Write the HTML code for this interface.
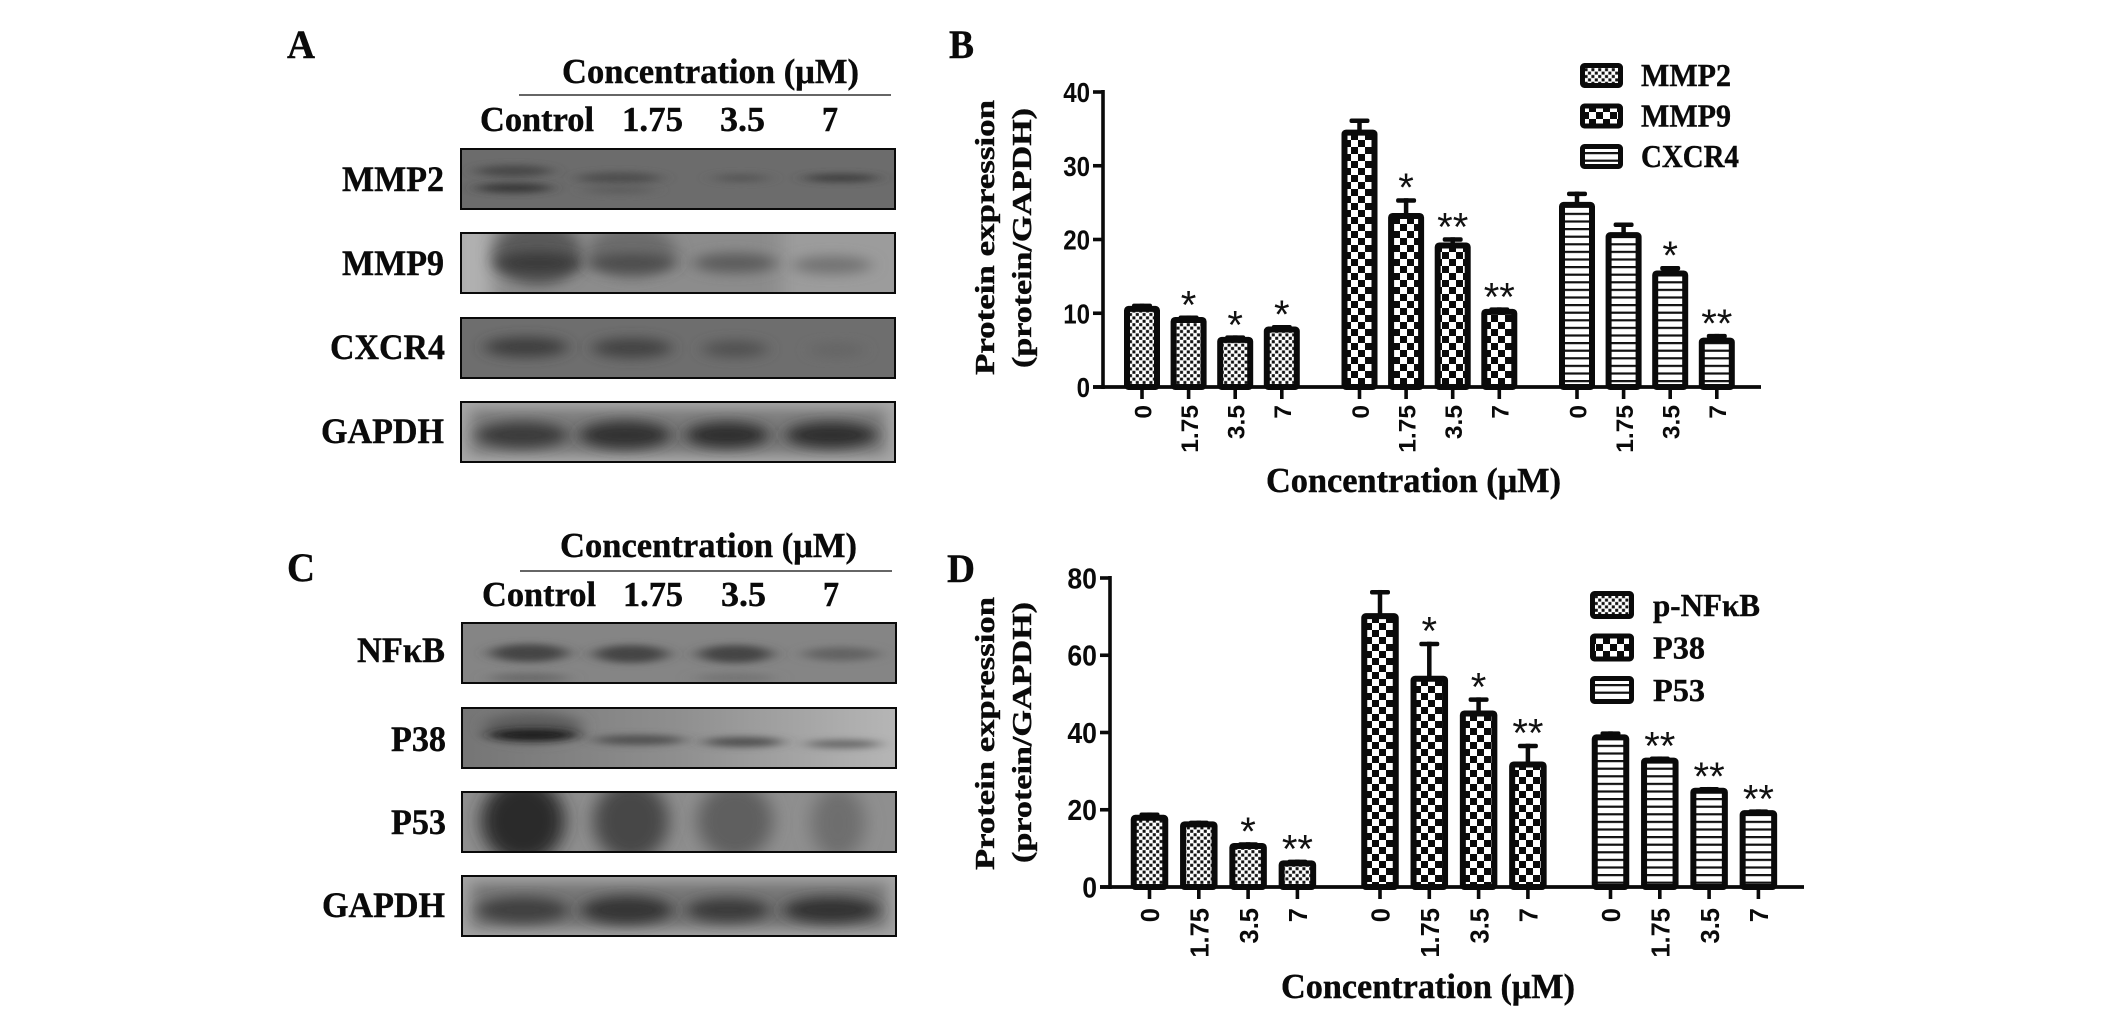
<!DOCTYPE html>
<html lang="en">
<head>
<meta charset="utf-8">
<title>Protein expression western blots</title>
<style>
html,body{margin:0;padding:0;background:#fff;width:2126px;height:1015px;overflow:hidden}
svg{display:block}
.serif{font-family:"Liberation Serif",serif;font-weight:bold;fill:#0a0a0a;stroke:#0a0a0a;stroke-width:.4}
.sans{font-family:"Liberation Sans",sans-serif;font-weight:bold;fill:#0a0a0a}
.star{font-family:"Liberation Sans",sans-serif;font-weight:normal;fill:#111}
</style>
</head>
<body>
<svg id="figure" xmlns="http://www.w3.org/2000/svg" width="2126" height="1015" viewBox="0 0 2126 1015">
<defs>
<filter id="b1" x="-40%" y="-150%" width="180%" height="400%"><feGaussianBlur stdDeviation="9 3.5"/></filter>
<filter id="b2" x="-40%" y="-100%" width="180%" height="300%"><feGaussianBlur stdDeviation="8 6"/></filter>
<filter id="b3" x="-40%" y="-100%" width="180%" height="300%"><feGaussianBlur stdDeviation="9 8"/></filter>
<filter id="b4" x="-40%" y="-40%" width="180%" height="180%"><feGaussianBlur stdDeviation="9 1"/></filter>
<pattern id="pat-fine" width="6.8" height="6.8" patternUnits="userSpaceOnUse">
<rect width="6.8" height="6.8" fill="#fff"/>
<rect x="0.2" y="0.2" width="3" height="3" fill="#111"/>
<rect x="3.6" y="3.6" width="3" height="3" fill="#111"/>
</pattern>
<pattern id="pat-check" width="14" height="14" patternUnits="userSpaceOnUse">
<rect width="14" height="14" fill="#fff"/>
<rect x="0" y="0" width="7" height="7" fill="#0a0a0a"/>
<rect x="7" y="7" width="7" height="7" fill="#0a0a0a"/>
</pattern>
<pattern id="pat-stripe" width="10" height="7.6" patternUnits="userSpaceOnUse">
<rect width="10" height="7.6" fill="#fff"/>
<rect x="0" y="0" width="10" height="2.2" fill="#111"/>
</pattern>
</defs>

<g id="panel-a">
<text class="serif" x="287" y="58" font-size="40" textLength="28" lengthAdjust="spacingAndGlyphs">A</text>
<text class="serif" x="562" y="83" font-size="35" textLength="297" lengthAdjust="spacingAndGlyphs">Concentration (μM)</text>
<line x1="519" x2="891" y1="95" y2="95" stroke="#333" stroke-width="1.6"/>
<text class="serif" x="480" y="131" font-size="35" textLength="114" lengthAdjust="spacingAndGlyphs">Control</text>
<text class="serif" x="622" y="131" font-size="35" textLength="61" lengthAdjust="spacingAndGlyphs">1.75</text>
<text class="serif" x="720" y="131" font-size="35" textLength="45" lengthAdjust="spacingAndGlyphs">3.5</text>
<text class="serif" x="822" y="131" font-size="35" textLength="16" lengthAdjust="spacingAndGlyphs">7</text>
<text class="serif" x="342" y="191" font-size="36" textLength="102" lengthAdjust="spacingAndGlyphs">MMP2</text>
<text class="serif" x="342" y="275" font-size="36" textLength="102" lengthAdjust="spacingAndGlyphs">MMP9</text>
<text class="serif" x="330" y="359" font-size="36" textLength="115" lengthAdjust="spacingAndGlyphs">CXCR4</text>
<text class="serif" x="321" y="443" font-size="36" textLength="123" lengthAdjust="spacingAndGlyphs">GAPDH</text>

<svg x="460" y="148" width="436" height="62">
<rect width="436" height="62" fill="#6c6c6c"/>
<ellipse cx="54" cy="23" rx="38" ry="6" fill="#4a4a4a" filter="url(#b1)"/>
<ellipse cx="54" cy="40" rx="38" ry="5" fill="#373737" filter="url(#b1)"/>
<ellipse cx="159" cy="30" rx="42" ry="6" fill="#4f4f4f" filter="url(#b1)"/>
<ellipse cx="159" cy="42" rx="35" ry="4" fill="#5d5d5d" filter="url(#b1)"/>
<ellipse cx="281" cy="30" rx="28" ry="4" fill="#565656" filter="url(#b1)"/>
<ellipse cx="381" cy="30" rx="38" ry="4" fill="#3d3d3d" filter="url(#b1)"/>
<rect x="1" y="1" width="434" height="60" fill="none" stroke="#0a0a0a" stroke-width="2"/>
</svg>
<svg x="460" y="232" width="436" height="62">
<rect width="436" height="62" fill="#8c8c8c"/>
<rect x="-10" y="-10" width="42" height="82" fill="#b0b0b0" filter="url(#b4)"/>
<rect x="322" y="-10" width="124" height="82" fill="#9c9c9c" filter="url(#b4)"/>
<ellipse cx="78" cy="22" rx="44" ry="32" fill="#5a5a5a" filter="url(#b2)"/>
<ellipse cx="78" cy="31" rx="42" ry="11" fill="#3a3a3a" filter="url(#b2)"/>
<ellipse cx="172" cy="20" rx="44" ry="26" fill="#6c6c6c" filter="url(#b2)"/>
<ellipse cx="172" cy="31" rx="44" ry="9" fill="#4c4c4c" filter="url(#b2)"/>
<ellipse cx="275" cy="31" rx="42" ry="10" fill="#5c5c5c" filter="url(#b2)"/>
<ellipse cx="372" cy="33" rx="40" ry="9" fill="#727272" filter="url(#b2)"/>
<rect x="1" y="1" width="434" height="60" fill="none" stroke="#0a0a0a" stroke-width="2"/>
</svg>
<svg x="460" y="317" width="436" height="62">
<rect width="436" height="62" fill="#6e6e6e"/>
<ellipse cx="66" cy="30" rx="42" ry="10" fill="#3e3e3e" filter="url(#b2)"/>
<ellipse cx="172" cy="31" rx="40" ry="10" fill="#424242" filter="url(#b2)"/>
<ellipse cx="275" cy="32" rx="33" ry="8" fill="#4f4f4f" filter="url(#b2)"/>
<ellipse cx="377" cy="33" rx="28" ry="6" fill="#646464" filter="url(#b2)"/>
<rect x="1" y="1" width="434" height="60" fill="none" stroke="#0a0a0a" stroke-width="2"/>
</svg>
<svg x="460" y="401" width="436" height="62">
<rect width="436" height="62" fill="#a8a8a8"/>
<rect x="10" y="8" width="416" height="46" fill="#7c7c7c" filter="url(#b2)"/>
<ellipse cx="62" cy="34" rx="46" ry="13" fill="#3a3a3a" filter="url(#b2)"/>
<ellipse cx="165" cy="34" rx="46" ry="14" fill="#303030" filter="url(#b2)"/>
<ellipse cx="267" cy="34" rx="42" ry="13" fill="#2f2f2f" filter="url(#b2)"/>
<ellipse cx="371" cy="34" rx="46" ry="13" fill="#2f2f2f" filter="url(#b2)"/>
<rect x="1" y="1" width="434" height="60" fill="none" stroke="#0a0a0a" stroke-width="2"/>
</svg>
</g>

<g id="panel-c">
<text class="serif" x="287" y="581" font-size="40" textLength="28" lengthAdjust="spacingAndGlyphs">C</text>
<text class="serif" x="560" y="557" font-size="35" textLength="297" lengthAdjust="spacingAndGlyphs">Concentration (μM)</text>
<line x1="520" x2="892" y1="571" y2="571" stroke="#333" stroke-width="1.6"/>
<text class="serif" x="482" y="606" font-size="35" textLength="114" lengthAdjust="spacingAndGlyphs">Control</text>
<text class="serif" x="623" y="606" font-size="35" textLength="60" lengthAdjust="spacingAndGlyphs">1.75</text>
<text class="serif" x="721" y="606" font-size="35" textLength="45" lengthAdjust="spacingAndGlyphs">3.5</text>
<text class="serif" x="823" y="606" font-size="35" textLength="16" lengthAdjust="spacingAndGlyphs">7</text>
<text class="serif" x="357" y="662" font-size="36" textLength="88" lengthAdjust="spacingAndGlyphs">NFκB</text>
<text class="serif" x="391" y="751" font-size="36" textLength="55" lengthAdjust="spacingAndGlyphs">P38</text>
<text class="serif" x="391" y="834" font-size="36" textLength="55" lengthAdjust="spacingAndGlyphs">P53</text>
<text class="serif" x="322" y="917" font-size="36" textLength="123" lengthAdjust="spacingAndGlyphs">GAPDH</text>

<svg x="461" y="622" width="436" height="62">
<rect width="436" height="62" fill="#858585"/>
<ellipse cx="68" cy="31" rx="39" ry="9" fill="#444444" filter="url(#b1)"/>
<ellipse cx="170" cy="32" rx="37" ry="9" fill="#454545" filter="url(#b1)"/>
<ellipse cx="274" cy="32" rx="37" ry="9" fill="#454545" filter="url(#b1)"/>
<ellipse cx="380" cy="32" rx="38" ry="7" fill="#636363" filter="url(#b1)"/>
<ellipse cx="68" cy="56" rx="40" ry="5" fill="#6a6a6a" filter="url(#b1)"/>
<ellipse cx="274" cy="56" rx="40" ry="5" fill="#747474" filter="url(#b1)"/>
<rect x="1" y="1" width="434" height="60" fill="none" stroke="#0a0a0a" stroke-width="2"/>
</svg>
<svg x="461" y="707" width="436" height="62">
<defs><linearGradient id="p38bg" x1="0" x2="1" y1="0" y2="0"><stop offset="0" stop-color="#757575"/><stop offset="0.5" stop-color="#8f8f8f"/><stop offset="1" stop-color="#b6b6b6"/></linearGradient></defs>
<rect width="436" height="62" fill="url(#p38bg)"/>
<ellipse cx="72" cy="20" rx="50" ry="14" fill="#5a5a5a" filter="url(#b2)"/>
<ellipse cx="72" cy="28" rx="44" ry="6" fill="#1c1c1c" filter="url(#b1)"/>
<ellipse cx="178" cy="33" rx="46" ry="5" fill="#505050" filter="url(#b1)"/>
<ellipse cx="282" cy="35" rx="40" ry="5" fill="#505050" filter="url(#b1)"/>
<ellipse cx="382" cy="37" rx="38" ry="4" fill="#636363" filter="url(#b1)"/>
<rect x="1" y="1" width="434" height="60" fill="none" stroke="#0a0a0a" stroke-width="2"/>
</svg>
<svg x="461" y="791" width="436" height="62">
<rect width="436" height="62" fill="#8f8f8f"/>
<ellipse cx="62" cy="30" rx="42" ry="42" fill="#2c2c2c" filter="url(#b3)"/>
<ellipse cx="170" cy="30" rx="38" ry="40" fill="#474747" filter="url(#b3)"/>
<ellipse cx="274" cy="30" rx="38" ry="38" fill="#5e5e5e" filter="url(#b3)"/>
<ellipse cx="377" cy="32" rx="27" ry="36" fill="#6e6e6e" filter="url(#b3)"/>
<rect x="1" y="1" width="434" height="60" fill="none" stroke="#0a0a0a" stroke-width="2"/>
</svg>
<svg x="461" y="875" width="436" height="62">
<rect width="436" height="62" fill="#a4a4a4"/>
<rect x="10" y="8" width="416" height="46" fill="#767676" filter="url(#b2)"/>
<ellipse cx="62" cy="35" rx="46" ry="13" fill="#404040" filter="url(#b2)"/>
<ellipse cx="166" cy="35" rx="46" ry="14" fill="#363636" filter="url(#b2)"/>
<ellipse cx="267" cy="35" rx="42" ry="12" fill="#3a3a3a" filter="url(#b2)"/>
<ellipse cx="370" cy="35" rx="48" ry="13" fill="#333333" filter="url(#b2)"/>
<rect x="1" y="1" width="434" height="60" fill="none" stroke="#0a0a0a" stroke-width="2"/>
</svg>
</g>

<g id="chart-b"></g>
<g id="chart-d"></g>
</svg>

<script>
// ---- shared categories ----
const concentrations = ['0', '1.75', '3.5', '7'];

// ---- chart B data ----
const chartBSeries = ['MMP2', 'MMP9', 'CXCR4'];
const chartBTicks = [0, 10, 20, 30, 40];
const mmp2Values = [11.0, 9.5, 6.8, 8.2];
const mmp2Errors = [0.3, 0.2, 0.2, 0.2];
const mmp2Stars = ['', '*', '*', '*'];
const mmp9Values = [34.9, 23.6, 19.6, 10.6];
const mmp9Errors = [1.5, 2.0, 0.7, 0.2];
const mmp9Stars = ['', '*', '**', '**'];
const cxcr4Values = [25.1, 21.0, 15.8, 6.7];
const cxcr4Errors = [1.4, 1.3, 0.6, 0.5];
const cxcr4Stars = ['', '', '*', '**'];

// ---- chart D data ----
const chartDSeries = ['p-NFκB', 'P38', 'P53'];
const chartDTicks = [0, 20, 40, 60, 80];
const nfkbValues = [18.7, 17.0, 11.4, 6.9];
const nfkbErrors = [0.6, 0.2, 0.2, 0.2];
const nfkbStars = ['', '', '*', '**'];
const p38Values = [70.9, 54.7, 45.7, 32.5];
const p38Errors = [6.0, 8.8, 3.4, 4.6];
const p38Stars = ['', '*', '*', '**'];
const p53Values = [39.5, 33.5, 25.7, 19.9];
const p53Errors = [0.8, 0.3, 0.2, 0.2];
const p53Stars = ['', '**', '**', '**'];

const SVGNS = 'http://www.w3.org/2000/svg';
function mk(parent, tag, attrs, text) {
  const el = document.createElementNS(SVGNS, tag);
  for (const k in attrs) el.setAttribute(k, attrs[k]);
  if (text !== undefined) el.textContent = text;
  parent.appendChild(el);
  return el;
}

function drawChart(cfg) {
  const root = document.getElementById(cfg.id);
  const xScale = (g, k) => cfg.x0 + g * cfg.groupStep + k * cfg.barStep;
  const yScale = v => cfg.yZero - v * cfg.pxPerUnit;

  // panel letter
  const letter = mk(root, 'text', {class: 'serif', x: cfg.letter.x, y: cfg.letter.y, 'font-size': 40, textLength: cfg.letter.w, lengthAdjust: 'spacingAndGlyphs'}, cfg.letter.t);
  
  

  // bars, errors, stars
  cfg.series.forEach((s, g) => {
    s.values.forEach((v, k) => {
      const cx = xScale(g, k);
      const top = yScale(v);
      const errTop = yScale(v + s.errors[k]);
      const inset = 3;
      const w = cfg.barWidth;
      const stem = mk(root, 'line', {x1: cx, x2: cx, y1: top + 2, y2: errTop, stroke: '#0a0a0a', 'stroke-width': 4.5});
      
      
      const cap = mk(root, 'rect', {x: cx - 10, y: errTop, width: 20, height: 4.5, rx: 2, fill: '#0a0a0a'});
      
      
      const bar = mk(root, 'rect', {x: cx - w / 2 + inset, y: top + inset, width: w - 2 * inset, height: Math.max(0, cfg.yZero - top - inset), fill: 'url(#' + s.pattern + ')', stroke: '#0a0a0a', 'stroke-width': 6, rx: 1.5});
      
      
      if (s.stars[k]) {
        const star = mk(root, 'text', {class: 'star', x: cx, y: errTop - cfg.starGap + 23, 'font-size': 40, 'text-anchor': 'middle'}, s.stars[k]);
        
        
      }
      // x tick + label
      const tick = mk(root, 'line', {x1: cx, x2: cx, y1: cfg.yZero, y2: cfg.yZero + 12, stroke: '#0a0a0a', 'stroke-width': 3.6});
      
      
      const lx = cx + cfg.xTickFont * 0.38;
      const ly = cfg.xLabelY;
      const label = mk(root, 'text', {class: 'sans', x: lx, y: ly, 'font-size': cfg.xTickFont, 'text-anchor': 'end', transform: 'rotate(-90 ' + lx + ' ' + ly + ')'}, concentrations[k]);
      
      
    });
  });

  // axes
  const yAxis = mk(root, 'line', {x1: cfg.axisX, x2: cfg.axisX, y1: yScale(cfg.ticks[cfg.ticks.length - 1]) - 2, y2: cfg.yZero + 2, stroke: '#0a0a0a', 'stroke-width': 3.6});
  
  
  const xAxis = mk(root, 'line', {x1: cfg.axisX - 10, x2: cfg.axisEnd, y1: cfg.yZero, y2: cfg.yZero, stroke: '#0a0a0a', 'stroke-width': 3.8});
  
  
  cfg.ticks.forEach(t => {
    const y = yScale(t);
    const tick = mk(root, 'line', {x1: cfg.axisX - 10, x2: cfg.axisX, y1: y, y2: y, stroke: '#0a0a0a', 'stroke-width': 3.6});
    
    
    const str = String(t);
    const label = mk(root, 'text', {class: 'sans', x: cfg.axisX - 13, y: y + cfg.yTickFont * 0.36, 'font-size': cfg.yTickFont, 'text-anchor': 'end', textLength: str.length * cfg.yTickWidth, lengthAdjust: 'spacingAndGlyphs'}, str);
    
    
  });

  // axis titles
  const t1 = cfg.title1, t2 = cfg.title2;
  const yt1 = mk(root, 'text', {class: 'serif', x: t1.x, y: t1.y, 'font-size': 27, textLength: t1.len, lengthAdjust: 'spacingAndGlyphs', transform: 'rotate(-90 ' + t1.x + ' ' + t1.y + ')'}, 'Protein expression');
  
  
  const yt2 = mk(root, 'text', {class: 'serif', x: t2.x, y: t2.y, 'font-size': 27, textLength: t2.len, lengthAdjust: 'spacingAndGlyphs', transform: 'rotate(-90 ' + t2.x + ' ' + t2.y + ')'}, '(protein/GAPDH)');
  
  
  const xt = mk(root, 'text', {class: 'serif', x: cfg.xTitle.x, y: cfg.xTitle.y, 'font-size': 35, textLength: cfg.xTitle.len, lengthAdjust: 'spacingAndGlyphs'}, 'Concentration (μM)');
  
  

  // legend
  cfg.series.forEach((s, i) => {
    const lg = cfg.legend;
    const y = lg.y0 + i * lg.step;
    const sw = mk(root, 'rect', {x: lg.x + 2.5, y: y + 2.5, width: lg.w - 5, height: lg.h - 5, rx: 2, fill: 'url(#' + s.pattern + ')', stroke: '#0a0a0a', 'stroke-width': 5});
    
    
    const tx = mk(root, 'text', {class: 'serif', x: lg.tx, y: y + lg.h - lg.baseUp, 'font-size': 32, textLength: s.legendWidth, lengthAdjust: 'spacingAndGlyphs'}, s.name);
    
    
  });
}

drawChart({
  id: 'chart-b',
  x0: 1142, groupStep: 217.5, barStep: 46.6, barWidth: 36,
  yZero: 387, pxPerUnit: 7.375, axisX: 1103, axisEnd: 1761,
  ticks: chartBTicks, yTickFont: 28, yTickWidth: 13.4, xTickFont: 24.5, xLabelY: 405, starGap: 20,
  letter: {t: 'B', x: 949, y: 58, w: 25},
  title1: {x: 994, y: 375, len: 275},
  title2: {x: 1031, y: 368, len: 260},
  xTitle: {x: 1266, y: 492, len: 295},
  legend: {x: 1580, y0: 63, step: 40.5, w: 43, h: 25, tx: 1641, baseUp: 2},
  series: [
    {name: chartBSeries[0], values: mmp2Values, errors: mmp2Errors, stars: mmp2Stars, pattern: 'pat-fine', legendWidth: 90},
    {name: chartBSeries[1], values: mmp9Values, errors: mmp9Errors, stars: mmp9Stars, pattern: 'pat-check', legendWidth: 90},
    {name: chartBSeries[2], values: cxcr4Values, errors: cxcr4Errors, stars: cxcr4Stars, pattern: 'pat-stripe', legendWidth: 98}
  ]
});

drawChart({
  id: 'chart-d',
  x0: 1149.5, groupStep: 230.5, barStep: 49.3, barWidth: 37.5,
  yZero: 887, pxPerUnit: 3.8625, axisX: 1110, axisEnd: 1804,
  ticks: chartDTicks, yTickFont: 29, yTickWidth: 14.8, xTickFont: 25.5, xLabelY: 908, starGap: 20,
  letter: {t: 'D', x: 947, y: 582, w: 28},
  title1: {x: 994, y: 870, len: 273},
  title2: {x: 1031, y: 863, len: 261},
  xTitle: {x: 1281, y: 998, len: 294},
  legend: {x: 1590, y0: 591, step: 42.5, w: 44, h: 28, tx: 1653, baseUp: 3},
  series: [
    {name: chartDSeries[0], values: nfkbValues, errors: nfkbErrors, stars: nfkbStars, pattern: 'pat-fine', legendWidth: 107},
    {name: chartDSeries[1], values: p38Values, errors: p38Errors, stars: p38Stars, pattern: 'pat-check', legendWidth: 52},
    {name: chartDSeries[2], values: p53Values, errors: p53Errors, stars: p53Stars, pattern: 'pat-stripe', legendWidth: 52}
  ]
});
</script>
</body>
</html>
